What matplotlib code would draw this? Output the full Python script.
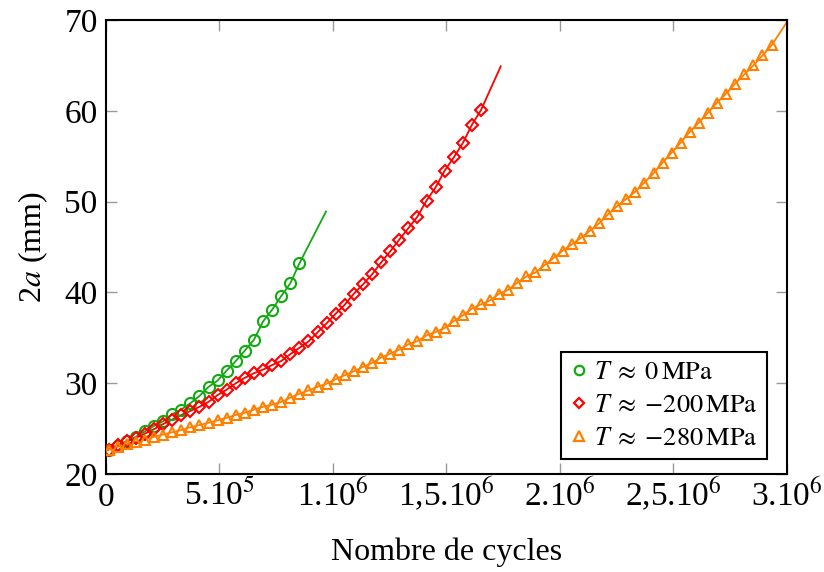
import matplotlib
matplotlib.use("Agg")
import matplotlib.pyplot as plt
from matplotlib.lines import Line2D
import numpy as np

plt.rcParams['font.family'] = ['Liberation Serif', 'DejaVu Serif']
plt.rcParams['mathtext.fontset'] = 'stix'

# cycle counts (thousands) at which crack length 2a was measured
cycles_k = [12, 52, 92, 132, 172, 212, 252, 292, 332, 372,
            412, 452, 492, 532, 572, 612, 652, 692, 732, 772,
            812, 852, 892, 932, 972, 1012, 1052, 1092, 1132, 1172,
            1212, 1252, 1292, 1332, 1372, 1412, 1452, 1492, 1532, 1572,
            1612, 1652, 1692, 1732, 1772, 1812, 1852, 1892, 1932, 1972,
            2012, 2052, 2092, 2132, 2172, 2212, 2252, 2292, 2332, 2372,
            2412, 2452, 2492, 2532, 2572, 2612, 2652, 2692, 2732, 2772,
            2812, 2852, 2892, 2932]

# T ~ 0 MPa
a_0 = [22.7, 23.1, 23.6, 24.1, 24.7, 25.3, 25.8, 26.6, 27.1, 27.8,
       28.6, 29.6, 30.3, 31.4, 32.45, 33.6, 34.8, 36.8, 38.1, 39.6,
       41.0, 43.2]
fit_end_0 = (969, 48.9)

# T ~ -200 MPa
a_200 = [22.7, 23.2, 23.6, 24.0, 24.45, 24.95, 25.5, 26.0, 26.5, 26.95,
         27.4, 27.95, 28.7, 29.3, 30.0, 30.6, 31.1, 31.5, 32.0, 32.45,
         33.2, 33.9, 34.6, 35.6, 36.6, 37.66, 38.65, 39.86, 40.88, 41.98,
         43.3, 44.51, 45.82, 47.07, 48.35, 50.11, 51.57, 53.41, 54.87, 56.45,
         58.46, 60.08]
fit_end_200 = (1739, 64.9)

# T ~ -280 MPa
a_280 = [22.7, 23.0, 23.3, 23.55, 23.8, 24.1, 24.35, 24.6, 24.85, 25.15,
         25.4, 25.65, 25.9, 26.2, 26.5, 26.75, 27.1, 27.4, 27.65, 27.95,
         28.4, 28.85, 29.2, 29.6, 29.95, 30.45, 30.88, 31.32, 31.79, 32.23,
         32.82, 33.26, 33.7, 34.29, 34.65, 35.27, 35.64, 36.08, 36.85, 37.47,
         38.21, 38.68, 39.12, 39.86, 40.29, 41.06, 41.76, 42.2, 43.0, 43.8,
         44.6, 45.3, 46.0, 46.8, 47.6, 48.6, 49.5, 50.3, 51.1, 52.1,
         53.1, 54.3, 55.4, 56.5, 57.7, 58.7, 59.8, 60.9, 61.9, 63.0,
         64.0, 65.0, 66.1, 67.2]
fit_end_280 = (3000, 69.8)

xtick_vals = [0, 5e5, 1e6, 1.5e6, 2e6, 2.5e6, 3e6]
xtick_labels = ['0', '5.10$^5$', '1.10$^6$', '1,5.10$^6$', '2.10$^6$',
                '2,5.10$^6$', '3.10$^6$']

series = [
    (a_0, fit_end_0, '#11AA11', 'o', 8.0, r'$T\;\approx\;0\,\mathrm{MPa}$'),
    (a_200, fit_end_200, '#FF0000', 'D', 5.8, r'$T\;\approx\;{-}200\,\mathrm{MPa}$'),
    (a_280, fit_end_280, '#FF8000', '^', 7.8, r'$T\;\approx\;{-}280\,\mathrm{MPa}$'),
]

fig = plt.figure(figsize=(8.24, 5.72), dpi=100)
ax = fig.add_axes([0.1286, 0.1713, 0.8265, 0.7937])

handles = []
for vals, fit_end, col, mk, ms, lab in series:
    x = np.array(cycles_k[:len(vals)]) * 1000.0
    y = np.array(vals)
    fx = np.r_[0.0, x, fit_end[0] * 1000.0]
    fy = np.r_[vals[0] - 0.1, y, fit_end[1]]
    ax.plot(fx, fy, color=col, lw=1.3, zorder=2)
    ax.plot(x, y, ls='none', marker=mk, ms=ms, mfc='none', mec=col, mew=1.5, zorder=3)
    handles.append(Line2D([], [], ls='none', marker=mk, ms=ms * 0.85, mfc='none',
                          mec=col, mew=1.6, label=lab))

ax.set_xlim(0, 3e6)
ax.set_ylim(20, 70)
ax.set_xticks(xtick_vals)
ax.set_xticklabels(xtick_labels)
ax.set_yticks(range(20, 71, 10))

ax.tick_params(direction='in', length=8, width=1, color='#999999', top=True, right=True,
               labelsize=24)
ax.tick_params(axis='y', pad=6)
ax.tick_params(axis='x', pad=23)
for t in ax.get_xticklabels():
    t.set_verticalalignment('baseline')
for s in ax.spines.values():
    s.set_linewidth(1.5)

ax.set_xlabel('Nombre de cycles', fontsize=23, labelpad=17)
ax.set_ylabel(r'2$a$ (mm)', fontsize=23, labelpad=10)

leg = ax.legend(handles=handles, loc='lower right', bbox_to_anchor=(0.971, 0.033),
                borderaxespad=0, fontsize=19, frameon=True, fancybox=False,
                handlelength=0.6, handletextpad=0.3, labelspacing=0.35,
                borderpad=0.35, framealpha=1)
leg.get_frame().set_edgecolor('black')
leg.get_frame().set_linewidth(1.5)

fig.savefig('out.png', dpi=100)
